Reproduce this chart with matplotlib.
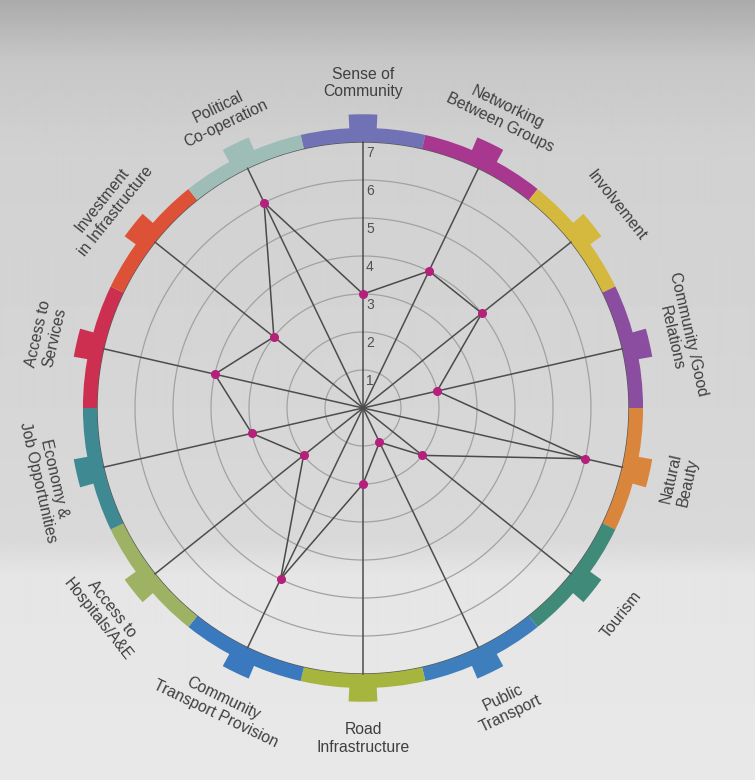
import numpy as np
import matplotlib
matplotlib.use("Agg")
import matplotlib.pyplot as plt
from matplotlib.transforms import offset_copy

# ---------------- data ----------------
categories = [
    "Sense of\nCommunity",
    "Networking\nBetween Groups",
    "Involvement",
    "Community /Good\nRelations",
    "Natural\nBeauty",
    "Tourism",
    "Public\nTransport",
    "Road\nInfrastructure",
    "Community\nTransport Provision",
    "Access to\nHospitals/A&E",
    "Economy &\nJob Opportunities",
    "Access to\nServices",
    "Investment\nin Infrastructure",
    "Political\nCo-operation",
]
scores = [3, 4, 4, 2, 6, 2, 1, 2, 5, 2, 3, 4, 3, 6]
scale_ticks = [1, 2, 3, 4, 5, 6, 7]
segment_colors = [
    "#7172b6",  # Sense of Community
    "#a8378f",  # Networking
    "#d5b83e",  # Involvement
    "#8b4d9f",  # Community / Good Relations
    "#d9853c",  # Natural Beauty
    "#3f8a78",  # Tourism
    "#3f7ebd",  # Public Transport
    "#a6b53e",  # Road Infrastructure
    "#3b79bf",  # Community Transport
    "#9db263",  # Access to Hospitals
    "#3f8a92",  # Economy
    "#cc2f4f",  # Access to Services
    "#dd5136",  # Investment
    "#9dbdb6",  # Political
]

# ---------------- figure ----------------
W, H = 755, 780
fig = plt.figure(figsize=(W / 100, H / 100), dpi=100)

# photo-like background shading
bg = fig.add_axes([0, 0, 1, 1])
bg.set_axis_off()
yy = np.arange(H)
shade = np.interp(yy, [0, 60, 150, 540, 575, 780], [0.67, 0.78, 0.82, 0.85, 0.90, 0.91])
bg.imshow(np.repeat(shade[:, None], 4, axis=1), cmap="gray", vmin=0, vmax=1,
          aspect="auto", extent=[0, 1, 0, 1], origin="upper", interpolation="bilinear")
bg.set_xlim(0, 1)
bg.set_ylim(0, 1)

unit = 38.0
rmax = 7.8
cx, cy = 363, 408
R = rmax * unit
ax = fig.add_axes([(cx - R) / W, (H - cy - R) / H, 2 * R / W, 2 * R / H], projection="polar")
ax.set_theta_zero_location("N")
ax.set_theta_direction(-1)
ax.set_axis_off()
ax.set_ylim(0, rmax)

n = len(categories)
angles = np.arange(n) * 2 * np.pi / n

# grid circles
tt = np.linspace(0, 2 * np.pi, 400)
for k in scale_ticks[:-1]:
    ax.plot(tt, np.full_like(tt, k), color="#a2a2a2", lw=0.9, zorder=1)
ax.plot(tt, np.full_like(tt, scale_ticks[-1]), color="#555555", lw=1.0, zorder=1)

# coloured outer band + tabs
ax.bar(angles, 0.37, width=2 * np.pi / n, bottom=7.0, color=segment_colors,
       linewidth=0, zorder=2)
ax.bar(angles, 0.40, width=0.098, bottom=7.33, color=segment_colors,
       linewidth=0, zorder=2)

# spokes
for a in angles:
    ax.plot([a, a], [0, scale_ticks[-1]], color="#4d4d4d", lw=1.1, zorder=3)

# score polygon
ax.plot(np.append(angles, angles[0]), scores + scores[:1], color="#4a4a4a", lw=1.1, zorder=4)
ax.plot(angles, scores, "o", color="#b5207a", ms=5.5, zorder=5)

# radial scale labels
off = offset_copy(ax.transData, fig=fig, x=3, y=0, units="dots")
for k in scale_ticks:
    ax.text(0, k - 0.28, str(k), transform=off, ha="left", va="center",
            fontsize=10, color="#505050", family="Liberation Sans", zorder=6)

# category labels
for a, lab in zip(angles, categories):
    deg = np.degrees(a)
    rot = -deg
    if 90 < deg < 270:
        rot += 180
    rr = 8.55 if not (120 < deg < 240) else 8.7
    ax.text(a, rr, lab, rotation=rot, rotation_mode="anchor", ha="center", va="center",
            multialignment="center", fontsize=11.3, color="#3f3f3f",
            family="Liberation Sans", linespacing=1.2)

fig.savefig("out.png", dpi=100)
